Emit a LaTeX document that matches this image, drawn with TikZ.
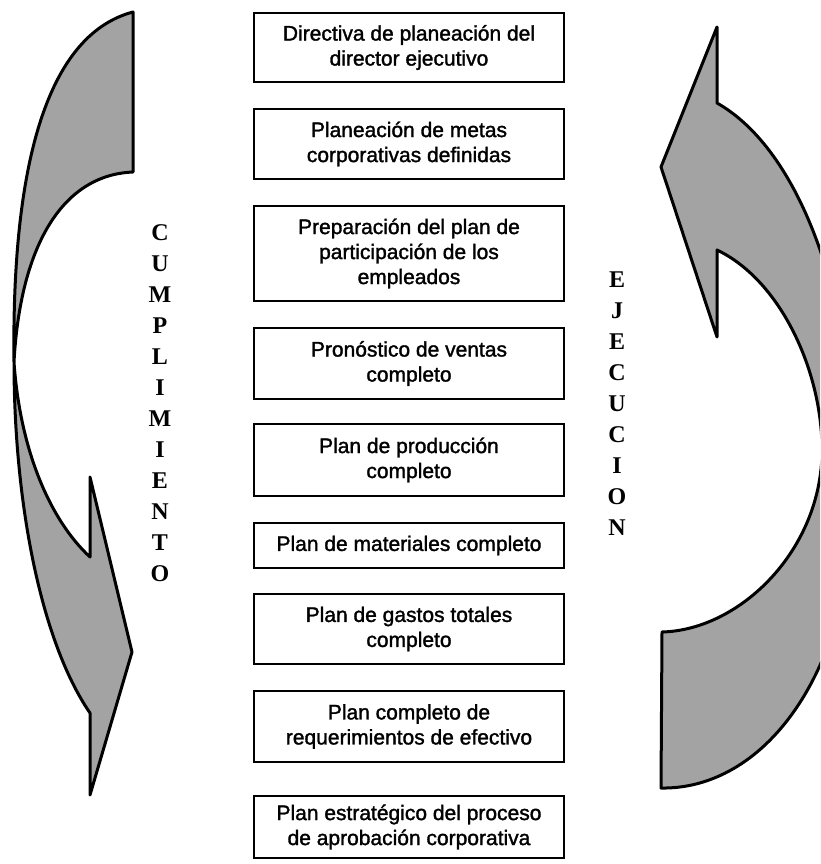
\documentclass[tikz,border=0pt]{standalone}
\usepackage{fontspec}
\setmainfont{Liberation Sans}
\newfontfamily\boxfont{Liberation Sans}[BoldFont=Liberation Sans, BoldFeatures={FakeBold=1.5}]
\newfontfamily\letterfont{Liberation Serif}
\definecolor{ribbongray}{gray}{0.64}
\begin{document}
\begin{tikzpicture}[x=1pt,y=-1pt,
  stepbox/.style={draw=black, line width=2.2pt, minimum width=310pt,
    align=center, inner sep=0pt, font=\boxfont\bfseries\fontsize{21}{25}\selectfont},
  ribbon/.style={fill=ribbongray, draw=black, line width=3pt, line join=round},
  vletter/.style={inner sep=0pt, font=\letterfont\bfseries\fontsize{24}{24}\selectfont}]
\useasboundingbox (0,0) rectangle (820,864);
\clip (0,0) rectangle (820,864);

% left twisted arrow pointing down (CUMPLIMIENTO)
\draw[ribbon]
  (133,12) .. controls (35,38) and (12,200) .. (14,362)
  .. controls (14,500) and (40,640) .. (90,713)
  -- (90,795) -- (132,652) -- (90,477) -- (90,557)
  .. controls (50,520) and (20,450) .. (14,362)
  .. controls (20,250) and (60,175) .. (133,172) -- cycle;

% right curved arrow pointing up (EJECUCION)
\draw[ribbon]
  (717,27) -- (661,167) -- (717,337) -- (717,250)
  .. controls (780,280) and (822,370) .. (822,450)
  .. controls (822,550) and (740,630) .. (662,632)
  -- (661,788)
  .. controls (760,790) and (855,680) .. (855,480)
  .. controls (855,300) and (800,150) .. (717,103) -- cycle;

% planning steps
\node[stepbox, minimum height=69pt] (b1) at (409,47.5) {Directiva de planeación del\\director ejecutivo};
\node[stepbox, minimum height=70pt] (b2) at (409,144) {Planeación de metas\\corporativas definidas};
\node[stepbox, minimum height=95pt] (b3) at (409,253.5) {Preparación del plan de\\participación de los\\empleados};
\node[stepbox, minimum height=71pt] (b4) at (409,363.5) {Pronóstico de ventas\\completo};
\node[stepbox, minimum height=72pt] (b5) at (409,460) {Plan de producción\\completo};
\node[stepbox, minimum height=45pt] (b6) at (409,545.5) {Plan de materiales completo};
\node[stepbox, minimum height=70pt] (b7) at (409,629) {Plan de gastos totales\\completo};
\node[stepbox, minimum height=71pt] (b8) at (409,726.5) {Plan completo de\\requerimientos de efectivo};
\node[stepbox, minimum height=62pt] (b9) at (409,827) {Plan estratégico del proceso\\de aprobación corporativa};

% vertical words
\foreach \ch [count=\i] in {C,U,M,P,L,I,M,I,E,N,T,O}
  \node[vletter] (cu\i) at (160,{233+31*(\i-1)}) {\ch};
\foreach \ch [count=\i] in {E,J,E,C,U,C,I,O,N}
  \node[vletter] (ej\i) at (617,{280+31*(\i-1)}) {\ch};
\end{tikzpicture}
\end{document}
